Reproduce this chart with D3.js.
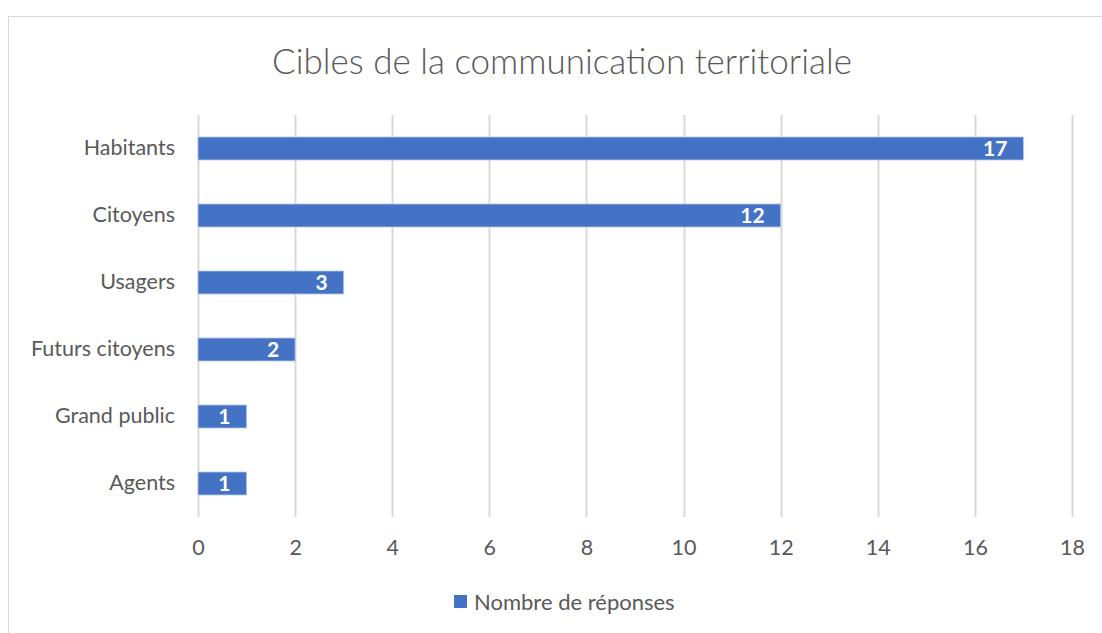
<!DOCTYPE html>
<html>
<head>
<meta charset="utf-8">
<script src="https://cdn.jsdelivr.net/npm/d3@7"></script>
<style>
  html, body { margin: 0; padding: 0; background: #fff; }
  svg { display: block; font-family: Lato, "Open Sans", sans-serif; }
</style>
</head>
<body>
<div id="chart"></div>
<script>
// Données
const categories = ["Habitants", "Citoyens", "Usagers", "Futurs citoyens", "Grand public", "Agents"];
const valeurs = [17, 12, 3, 2, 1, 1];
const ticks = [0, 2, 4, 6, 8, 10, 12, 14, 16, 18];
const titre = "Cibles de la communication territoriale";
const serie = "Nombre de réponses";

const width = 1102, height = 633;
const margin = { top: 115, right: 30, bottom: 116, left: 198 };

const svg = d3.select("#chart")
    .append("svg")
    .attr("width", width)
    .attr("height", height);

// Cadre du graphique
svg.append("rect")
    .attr("x", 8.5)
    .attr("y", 16.5)
    .attr("width", width + 20)
    .attr("height", height + 20)
    .attr("fill", "#fff")
    .attr("stroke", "#d9d9d9")
    .attr("stroke-width", 1);

const x = d3.scaleLinear()
    .domain([0, 18])
    .range([margin.left, 1072]);

const y = d3.scaleBand()
    .domain(categories)
    .range([margin.top, height - margin.bottom])
    .paddingInner(0.657)
    .paddingOuter(0.3285);

// Grille verticale
svg.append("g")
    .selectAll("line")
    .data(ticks)
    .enter()
    .append("line")
    .attr("x1", d => Math.round(x(d)) + 0.5)
    .attr("x2", d => Math.round(x(d)) + 0.5)
    .attr("y1", margin.top)
    .attr("y2", height - margin.bottom)
    .attr("stroke", "#d9d9d9")
    .attr("stroke-width", 2);

// Barres
svg.append("g")
    .selectAll("rect")
    .data(valeurs)
    .enter()
    .append("rect")
    .attr("x", x(0))
    .attr("y", (d, i) => y(categories[i]))
    .attr("width", d => x(d) - x(0))
    .attr("height", y.bandwidth())
    .attr("fill", "#4472c4")
    .attr("stroke", "#b4c7e7")
    .attr("stroke-width", 0.8);

// Étiquettes de données
svg.append("g")
    .selectAll("text")
    .data(valeurs)
    .enter()
    .append("text")
    .attr("x", d => x(d) - 16)
    .attr("y", (d, i) => y(categories[i]) + y.bandwidth() / 2)
    .attr("dy", "0.36em")
    .attr("text-anchor", "end")
    .attr("fill", "#fff")
    .attr("font-weight", "bold")
    .attr("font-size", "21px")
    .text(d => d);

// Axe Y (catégories)
const axeY = svg.append("g")
    .attr("transform", `translate(${margin.left},0)`)
    .call(d3.axisLeft(y).tickSize(0).tickPadding(23));
axeY.select(".domain").remove();
axeY.selectAll("text")
    .attr("fill", "#595959")
    .attr("font-size", "21.5px")
    .attr("font-family", "Lato, 'Open Sans', sans-serif");

// Axe X
const axeX = svg.append("g")
    .attr("transform", `translate(0,${height - margin.bottom})`)
    .call(d3.axisBottom(x).tickValues(ticks).tickSize(0).tickPadding(23));
axeX.select(".domain").remove();
axeX.selectAll("text")
    .attr("fill", "#595959")
    .attr("font-size", "21.5px")
    .attr("font-family", "Lato, 'Open Sans', sans-serif");

// Titre
svg.append("text")
    .attr("x", 562)
    .attr("y", 74)
    .attr("text-anchor", "middle")
    .attr("fill", "#595959")
    .attr("font-size", "35px")
    .attr("font-weight", 300)
    .text(titre);

// Légende
const legende = svg.append("g");
legende.append("rect")
    .attr("x", 454)
    .attr("y", 595)
    .attr("width", 13)
    .attr("height", 13)
    .attr("fill", "#4472c4");
legende.append("text")
    .attr("x", 474)
    .attr("y", 602)
    .attr("dy", "0.36em")
    .attr("fill", "#595959")
    .attr("font-size", "22px")
    .text(serie);
</script>
</body>
</html>
